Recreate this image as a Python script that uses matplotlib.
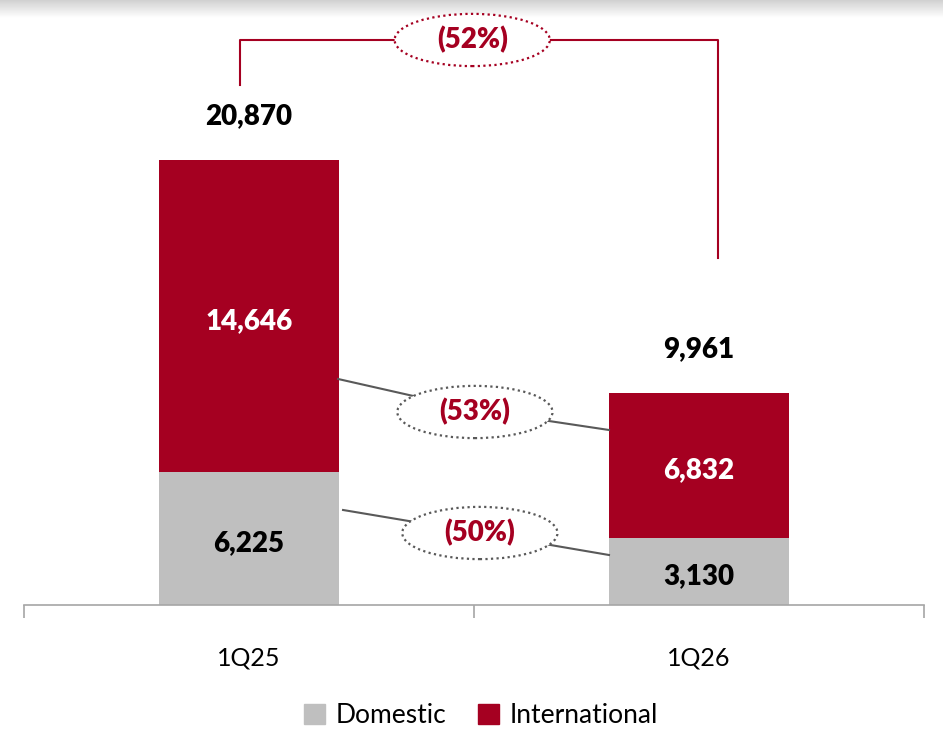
import numpy as np
import matplotlib.pyplot as plt
from matplotlib.patches import Ellipse, Patch

plt.rcParams['font.family'] = ['Lato', 'DejaVu Sans']

# datos
trimestres = ['1Q25', '1Q26']
domestic = [6225, 3130]
international = [14646, 6832]
totales = [20870, 9961]
variaciones = ['(52%)', '(53%)', '(50%)']

rojo = '#A50021'
gris = '#BFBFBF'

fig = plt.figure(figsize=(9.43, 7.36), dpi=100)
ax = fig.add_axes([24 / 943, 131 / 736, 900 / 943, 597 / 736])
ax.patch.set_alpha(0)

x = np.arange(len(trimestres))
ancho = 0.4
ax.bar(x, domestic, ancho, color=gris, zorder=2)
ax.bar(x, international, ancho, bottom=domestic, color=rojo, zorder=2)

for i in range(len(x)):
    ax.text(x[i], domestic[i] / 2 - 230, f'{domestic[i]:,}', ha='center', va='center',
            fontsize=20, fontweight='heavy', color='black', zorder=5)
    ax.text(x[i], domestic[i] + international[i] / 2 - 230, f'{international[i]:,}',
            ha='center', va='center', fontsize=20, fontweight='heavy', color='white', zorder=5)
    ax.text(x[i], totales[i] + 2050, f'{totales[i]:,}', ha='center', va='center',
            fontsize=20, fontweight='heavy', color='black', zorder=5)

ax.set_xlim(-0.5, 1.5)
ax.set_ylim(0, 28000)

# corchete de variacion total
ax.plot([-0.02, -0.02, 1.042, 1.042], [24390, 26500, 26500, 16280],
        color=rojo, lw=1.5, zorder=3)

def globo(cx, cy, texto, color_borde):
    e = Ellipse((cx, cy), 0.345, 2450, facecolor='white', edgecolor=color_borde,
                linestyle=(0, (1, 1.5)), lw=1.6, zorder=4)
    ax.add_patch(e)
    ax.text(cx, cy, texto, ha='center', va='center', fontsize=20,
            fontweight='heavy', color=rojo, zorder=5)

globo(0.496, 26500, variaciones[0], rojo)

# conectores entre barras
ax.plot([0.198, 0.502, 0.8], [10600, 9150, 8208], color='#595959', lw=1.5, zorder=3)
globo(0.502, 9052, variaciones[1], '#595959')
ax.plot([0.209, 0.513, 0.8], [4456, 3380, 2345], color='#595959', lw=1.5, zorder=3)
globo(0.513, 3377, variaciones[2], '#595959')

# ejes
for lado in ['top', 'right', 'left']:
    ax.spines[lado].set_visible(False)
ax.spines['bottom'].set_color('#A6A6A6')
ax.spines['bottom'].set_linewidth(1.2)
ax.set_yticks([])
ax.set_xticks(x)
ax.set_xticklabels(trimestres, fontsize=18)
ax.tick_params(axis='x', which='major', length=0, pad=30)
ax.set_xticks([-0.5, 0.5, 1.5], minor=True)
ax.tick_params(axis='x', which='minor', length=9, color='#A6A6A6', width=1.2)

fig.legend(handles=[Patch(color=gris, label='Domestic'),
                    Patch(color=rojo, label='International')],
           loc='lower center', bbox_to_anchor=(0.51, -0.022), ncol=2, frameon=False,
           fontsize=19, handlelength=0.8, handleheight=0.8, handletextpad=0.4,
           columnspacing=1.2)

# sombra superior
sombra = fig.add_axes([0, 1 - 18 / 736, 1, 18 / 736], zorder=-1)
grad = np.linspace(0.82, 1.0, 50).reshape(-1, 1)
sombra.imshow(grad, aspect='auto', cmap='gray', vmin=0, vmax=1, extent=[0, 1, 0, 1])
sombra.axis('off')

fig.savefig('out.png', dpi=100)
